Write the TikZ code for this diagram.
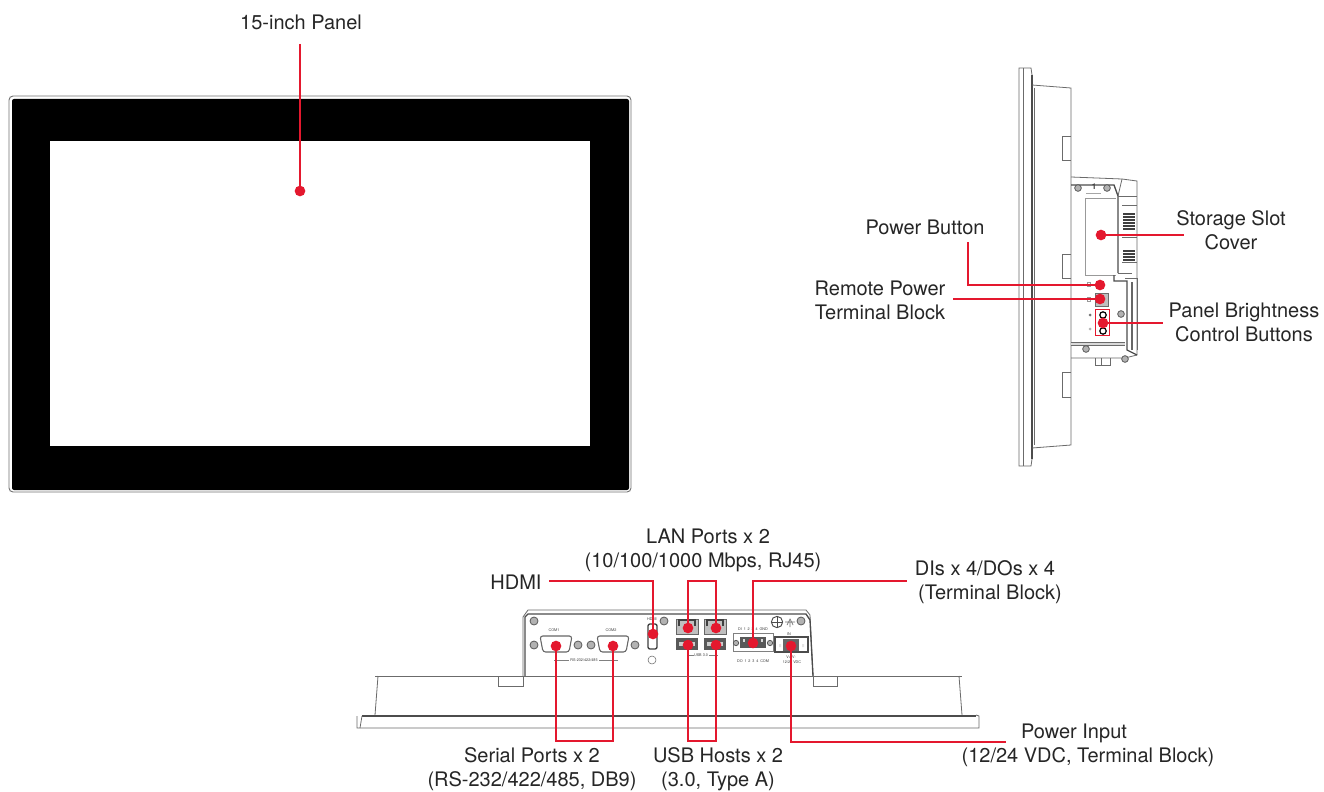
\documentclass[tikz,border=0pt]{standalone}
\usepackage{fontspec}
\setmainfont{TeX Gyre Heros}
\definecolor{callred}{HTML}{E4182E}
\definecolor{ln}{gray}{0.42}
\tikzset{
 x=0.75pt,y=-0.75pt,
 lab/.style={font=\fontsize{15}{18}\selectfont,inner sep=0pt,align=center,text=black!85},
 tiny/.style={font=\fontsize{2.8}{3}\selectfont,inner sep=0pt,text=black!75},
 dev/.style={draw=ln,line width=0.6pt},
 devthick/.style={draw=black!70,line width=1pt},
 dot/.style={circle,fill=callred,minimum size=8pt,inner sep=0pt},
 lead/.style={draw=callred,line width=1pt},
 redbox/.style={draw=callred,line width=0.7pt},
 screw/.style={circle,draw=black!65,line width=0.6pt,fill=black!30,minimum size=6pt,inner sep=0pt},
}
\begin{document}
\begin{tikzpicture}
\useasboundingbox (0,0) rectangle (1324,792);
\fill[white] (0,0) rectangle (1324,792);
% --- front panel
\draw[draw=black!55,line width=0.7pt,rounded corners=3pt] (9,96) rectangle (631,492);
\fill[black,rounded corners=1.5pt] (12,99) rectangle (629,490);
\fill[white] (50,141) rectangle (590,446);
% --- side view
\draw[dev] (1019,68) -- (1031,68) -- (1032,75) -- (1032,459) -- (1031,466) -- (1019,466) -- cycle;
\draw[dev] (1023,68) -- (1023,466);
\draw[devthick] (1032,75) -- (1032,459);
\draw[dev] (1032,85) -- (1071,88) -- (1071,445) -- (1032,448);
\draw[dev] (1034,88) -- (1034,445);
\foreach \a/\b in {136/160,254/278,372/397}{\draw[dev] (1071,\a) -- (1062,\a) -- (1062,\b) -- (1071,\b);}
\draw[dev] (1071,177) -- (1122,179) -- (1137,181) -- (1137,355) -- (1125,358) -- (1071,358);
\draw[devthick] (1071,185) -- (1114,185) -- (1118,196) -- (1118,273);
\draw[draw=black!40,line width=0.5pt] (1085,198) -- (1116,198);
\draw[draw=black!40,line width=0.5pt] (1085,198) -- (1085,275) -- (1116,275);
\draw[dev] (1118,196) -- (1137,196);
\draw[dev] (1118,273) -- (1132,273);
\draw[dev] (1122,179) -- (1118,196);
\draw[dev] (1122,205) -- (1137,205) (1122,237) -- (1137,237) (1122,262) -- (1137,262);
\foreach \y in {214,217,...,229}{\draw[draw=black!75,line width=1.2pt] (1123,\y) -- (1135,\y);}
\foreach \y in {251,254,...,260}{\draw[draw=black!75,line width=1.2pt] (1123,\y) -- (1135,\y);}
\draw[devthick] (1114,275) -- (1114,281) -- (1127,281) -- (1127,350) -- (1137,355);
\draw[dev] (1125,278) -- (1137,278) -- (1137,350);
\draw[draw=black!60,line width=1pt] (1132,282) -- (1132,350);
\fill[black!15] (1071,342) rectangle (1125,345);
\draw[dev] (1071,342) -- (1125,342) (1071,345) -- (1125,345);
\draw[dev] (1095,358) -- (1095,365) -- (1110,365) -- (1110,358);
\draw[dev] (1101,358) -- (1101,365);
\foreach \p in {(1078,188),(1107,188),(1121,314),(1086,349),(1125,359)}{\node[screw,minimum size=5pt] at \p {};}
\node[tiny,font=\fontsize{6}{6}\selectfont\bfseries] at (1094,187) {1};
\draw[draw=black!35,line width=0.6pt] (1086,193) -- (1101,193);
\draw[draw=black!40,line width=0.4pt] (1087,282) rectangle (1090,286) (1087,297) rectangle (1090,301);
\fill[black!55] (1090,315) circle (1.5);
\fill[black!30] (1090,329) circle (1.5);
\fill[black!25,draw=ln,line width=0.4pt] (1095,293) rectangle (1108,306);
\draw[draw=black,line width=0.9pt] (1103,315) circle (3.2) (1103,331) circle (3.2);
\draw[redbox] (1095,309) rectangle (1109,335);
% --- bottom view
\draw[dev] (523,676) -- (523,617) -- (528,610) -- (806,610) -- (810,615) -- (813,676);
\draw[devthick] (525,676) -- (525,617) -- (528,614) -- (806,614) -- (810,620) -- (813,676);
\draw[dev] (375,676) -- (962,676);
\draw[dev] (378,676) -- (375,715);
\draw[dev] (959,676) -- (962,715);
\draw[dev] (498,676) -- (498,686) -- (523,686) -- (523,676);
\draw[dev] (813,676) -- (813,686) -- (837,686) -- (837,676);
\draw[draw=black!70,line width=1.5pt] (362,716) -- (976,716);
\draw[dev] (357,716) -- (357,728) -- (979,728) -- (979,716) -- (976,715);
\draw[dev] (362,716) -- (360,728);
\foreach \cx/\cn in {556/COM1,613/COM2}{
 \draw[draw=black!60,line width=0.8pt,rounded corners=2pt] (\cx-16,636) -- (\cx+16,636) -- (\cx+13,652) -- (\cx-13,652) -- cycle;
 \node[screw] at (\cx-22,645) {};
 \node[screw] at (\cx+22,645) {};
 \node[tiny] at (\cx-2,630) {\cn};
}
\node[tiny] at (584,660) {RS-232/422/485};
\draw[draw=black!50,line width=0.3pt] (554,660) -- (569,660) (599,660) -- (618,660);
\foreach \p in {(534,621),(664,621),(801,621)}{\node[screw] at \p {};}
\node[tiny] at (652,619) {HDMI};
\draw[draw=black!75,line width=1pt,rounded corners=1.5pt] (648,624) rectangle (657,649);
\node[circle,draw=ln,line width=0.4pt,minimum size=6pt,inner sep=0pt] at (652,660) {};
\foreach \cx in {687,715}{
 \fill[black!25] (\cx-11,619) rectangle (\cx+11,634);
 \draw[draw=black!60,line width=0.7pt] (\cx-11,619) rectangle (\cx+11,634);
 \draw[draw=black!75,line width=1pt] (\cx-8,626) -- (\cx-8,620) -- (\cx+8,620) -- (\cx+8,626);
 \fill[black!65] (\cx-11,638) rectangle (\cx+11,650);
 \fill[black!20] (\cx-8,642) rectangle (\cx+8,646);
}
\node[tiny] at (701,655) {USB 3.0};
\draw[draw=black!50,line width=0.3pt] (687,655) -- (694,655) (709,655) -- (718,655);
\node[tiny] at (753,629) {DI\,\,\,1\,\,\,2\,\,\,3\,\,\,4\,\,\,GND};
\node[tiny] at (753,661) {DO\,\,\,1\,\,\,2\,\,\,3\,\,\,4\,\,\,COM};
\draw[draw=black!50,line width=0.6pt] (733,633) rectangle (773,651);
\fill[black!65] (740,637) rectangle (766,648);
\foreach \x in {744,750,756,762}{\fill[black!15] (\x-1,639) rectangle (\x+1,642);}
\node[screw,minimum size=4pt] at (736,643) {};
\node[screw,minimum size=4pt] at (770,643) {};
\draw[draw=black!70,line width=0.8pt] (775,637) rectangle (808,652);
\fill[black!60] (783,639) rectangle (799,651);
\fill[black!10] (779,644) rectangle (781,647) (802,644) rectangle (804,647);
\node[tiny] at (791,657) {V+\,\,V-};
\node[tiny] at (792,662) {12/24 VDC};
\node[tiny] at (789,634) {IN};
\node[circle,draw=black!70,line width=0.7pt,minimum size=8.5pt,inner sep=0pt,path picture={\draw[black!70,line width=0.7pt] (path picture bounding box.north)--(path picture bounding box.south) (path picture bounding box.west)--(path picture bounding box.east);}] at (777,622) {};
\draw[draw=black!55,line width=0.5pt] (785,622) -- (795,622) (790,622) -- (790,627) (787,625) -- (790,619) -- (793,625);
% --- dots
\node[dot] (panel) at (300,191) {};
\node[dot] (store) at (1101,235) {};
\node[dot] (pwrbtn) at (1100,285) {};
\node[dot] (remote) at (1100,299) {};
\node[dot] (bright) at (1103,323) {};
\node[dot] (hdmi) at (653,634) {};
\node[dot] (lana) at (688,628) {};
\node[dot] (lanb) at (716,628) {};
\node[dot] (usba) at (688,645) {};
\node[dot] (usbb) at (716,645) {};
\node[dot] (dio) at (753,643) {};
\node[dot] (pwrin) at (791,646) {};
\node[dot] (coma) at (556,646) {};
\node[dot] (comb) at (613,646) {};
% --- labels
\node[lab] (lpanel) at (301,22) {15-inch Panel};
\node[lab] (lbtn) at (925,227) {Power Button};
\node[lab] (lrem) at (880,300) {Remote Power\\Terminal Block};
\node[lab] (lsto) at (1231,230) {Storage Slot\\Cover};
\node[lab] (lbri) at (1244,322) {Panel Brightness\\Control Buttons};
\node[lab] (llan) at (708,550) {LAN Ports x 2\\(10/100/1000 Mbps, RJ45)\hspace*{7.5pt}};
\node[lab] (lhd) at (516,582) {HDMI};
\node[lab] (ldio) at (985,582) {DIs x 4/DOs x 4\\\hspace*{7.5pt}(Terminal Block)};
\node[lab] (lser) at (532,769) {Serial Ports x 2\\(RS-232/422/485, DB9)};
\node[lab] (lusb) at (718,769) {USB Hosts x 2\\(3.0, Type A)};
\node[lab] (lpin) at (1074,745) {Power Input\\\hspace*{21pt}(12/24 VDC, Terminal Block)};
% --- leaders
\draw[lead] (300,44) -- (panel.center);
\draw[lead] (store.center) -- (1184,235);
\draw[lead] (968,242) |- (pwrbtn.center);
\draw[lead] (953,299) -- (remote.center);
\draw[lead] (bright.center) -- (1163,323);
\draw[lead] (549,581) -| (hdmi.center);
\draw[lead] (lana.center) |- (716,581) -- (lanb.center);
\draw[lead] (dio.center) |- (907,581);
\draw[lead] (usba.center) |- (716,741) -- (usbb.center);
\draw[lead] (coma.center) |- (613,741) -- (comb.center);
\draw[lead] (pwrin.center) |- (1006,742);
\end{tikzpicture}
\end{document}
